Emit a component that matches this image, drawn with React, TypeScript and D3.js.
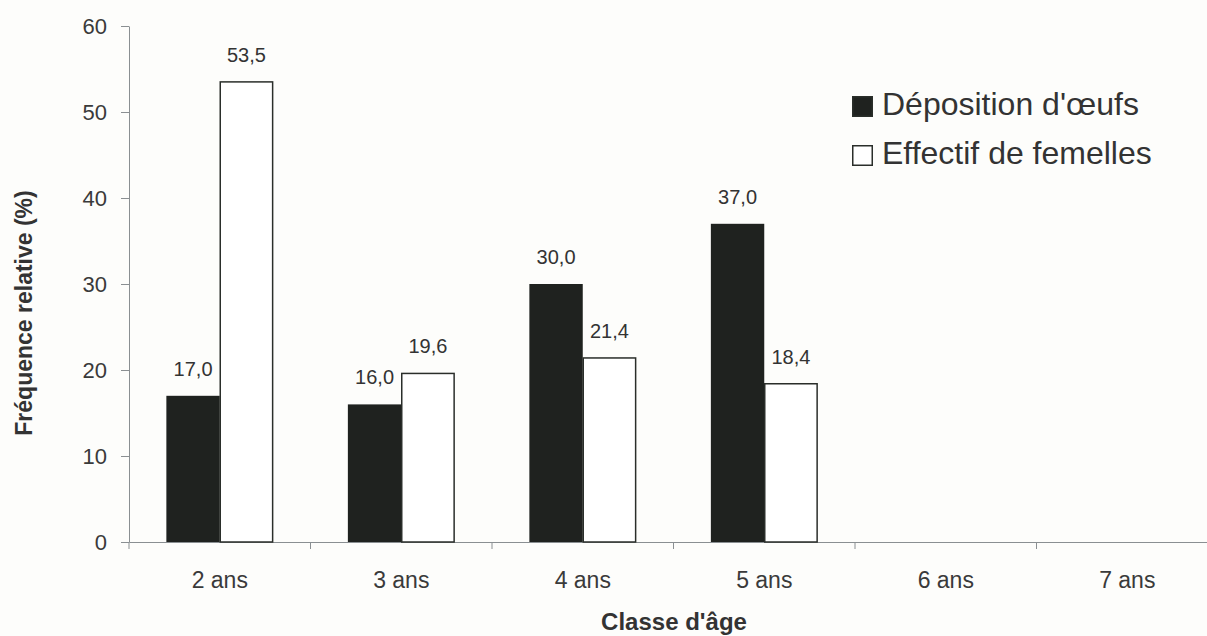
import { useEffect, useRef } from "react";
import * as d3 from "d3";

const categories = ["2 ans", "3 ans", "4 ans", "5 ans", "6 ans", "7 ans"];
const series = ["Déposition d'œufs", "Effectif de femelles"];
const deposition = [17.0, 16.0, 30.0, 37.0, null, null];
const effectif = [53.5, 19.6, 21.4, 18.4, null, null];
const yTicks = [0, 10, 20, 30, 40, 50, 60];

const App = () => {
  const chartRef = useRef(null);

  useEffect(() => {
    if (!chartRef.current) return;
    const svg = d3.select(chartRef.current);
    svg.selectAll("*").remove();

    const width = 1207;
    const height = 636;
    const margin = { top: 26, right: -11, bottom: 94, left: 129 };
    const font = "Liberation Sans, Arial, sans-serif";
    const dark = "#1f221f";
    const ink = "#333";

    svg.attr("viewBox", [0, 0, width, height]).attr("width", width).attr("height", height);

    svg.append("rect").attr("width", width).attr("height", height).attr("fill", "#fdfdfb");

    const x0 = d3
      .scaleBand()
      .domain(categories)
      .range([margin.left, width - margin.right])
      .padding(0);
    const x1 = d3
      .scaleBand()
      .domain(series)
      .range([0, x0.bandwidth()])
      .paddingInner(0)
      .paddingOuter(0.7);
    const y = d3
      .scaleLinear()
      .domain([0, 60])
      .range([height - margin.bottom, margin.top]);

    const rows = categories.map((c, i) => ({
      cat: c,
      vals: [deposition[i], effectif[i]],
    }));

    // y axis
    const gy = svg
      .append("g")
      .attr("transform", `translate(${margin.left},0)`)
      .call(d3.axisLeft(y).tickValues(yTicks).tickSize(8).tickPadding(14).tickSizeOuter(0));
    gy.select(".domain").attr("stroke", "#8a8f92");
    gy.selectAll(".tick line").attr("stroke", "#8a8f92");
    gy.selectAll(".tick text")
      .attr("font-family", font)
      .attr("font-size", 22)
      .attr("fill", "#3a3a3a");

    // x axis
    const gx = svg
      .append("g")
      .attr("transform", `translate(0,${y(0)})`)
      .call(d3.axisBottom(x0).tickSize(0).tickPadding(30).tickSizeOuter(0));
    gx.select(".domain").attr("stroke", "#8a8f92");
    gx.selectAll(".tick text")
      .attr("font-family", font)
      .attr("font-size", 23)
      .attr("fill", "#3a3a3a");
    gx.selectAll(".sep")
      .data(categories)
      .join("line")
      .attr("x1", (d) => x0(d) as number)
      .attr("x2", (d) => x0(d) as number)
      .attr("y1", 0)
      .attr("y2", 7)
      .attr("stroke", "#8a8f92");

    // bars
    const groups = svg
      .append("g")
      .selectAll("g")
      .data(rows)
      .join("g")
      .attr("transform", (d) => `translate(${x0(d.cat)},0)`);

    const cells = groups
      .selectAll("g")
      .data((d) =>
        d.vals
          .map((v, j) => ({ s: series[j], v, j }))
          .filter((e) => e.v !== null)
      )
      .join("g");

    cells
      .append("rect")
      .attr("x", (d) => (x1(d.s) as number) + (d.j === 1 ? 0.5 : 0))
      .attr("y", (d) => y(d.v as number))
      .attr("width", (d) => x1.bandwidth() - (d.j === 1 ? 1 : 0))
      .attr("height", (d) => y(0) - y(d.v as number))
      .attr("fill", (d) => (d.j === 0 ? dark : "#ffffff"))
      .attr("stroke", (d) => (d.j === 0 ? "none" : "#2a2e2a"))
      .attr("stroke-width", 1.5);

    cells
      .append("text")
      .attr("x", (d) => (x1(d.s) as number) + x1.bandwidth() / 2)
      .attr("y", (d) => y(d.v as number) - 20)
      .attr("text-anchor", "middle")
      .attr("font-family", font)
      .attr("font-size", 20)
      .attr("fill", ink)
      .text((d) => d3.format(".1f")(d.v as number).replace(".", ","));

    // axis titles
    svg
      .append("text")
      .attr("transform", `translate(32,313) rotate(-90)`)
      .attr("text-anchor", "middle")
      .attr("font-family", font)
      .attr("font-size", 23)
      .attr("font-weight", "bold")
      .attr("fill", ink)
      .text("Fréquence relative (%)");

    svg
      .append("text")
      .attr("x", 674)
      .attr("y", 630)
      .attr("text-anchor", "middle")
      .attr("font-family", font)
      .attr("font-size", 24)
      .attr("font-weight", "bold")
      .attr("fill", ink)
      .text("Classe d'âge");

    // legend
    const legend = svg
      .append("g")
      .selectAll("g")
      .data(series)
      .join("g")
      .attr("transform", (_, i) => `translate(852,${96 + i * 49})`);
    legend
      .append("rect")
      .attr("x", 0.75)
      .attr("y", 0.75)
      .attr("width", 19.5)
      .attr("height", 19.5)
      .attr("fill", (_, i) => (i === 0 ? dark : "#ffffff"))
      .attr("stroke", "#2a2e2a")
      .attr("stroke-width", 1.5);
    legend
      .append("text")
      .attr("x", 30)
      .attr("y", 19)
      .attr("font-family", font)
      .attr("font-size", 32)
      .attr("fill", ink)
      .text((d) => d);
  }, []);

  return <svg ref={chartRef} style={{ position: "absolute", left: 0, top: 0 }}></svg>;
};

export default App;
